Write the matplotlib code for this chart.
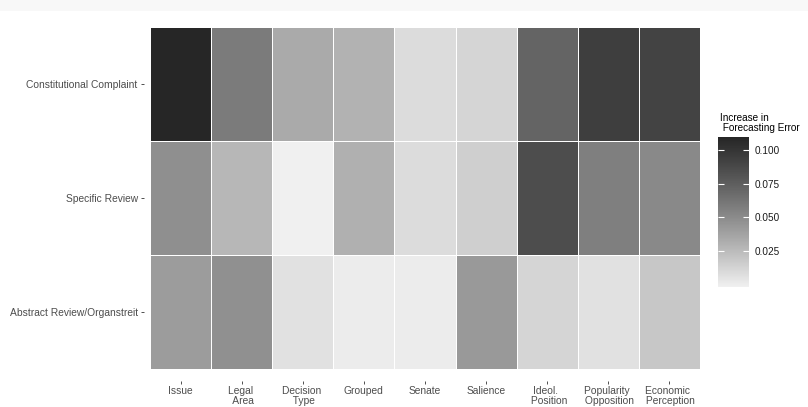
import matplotlib
matplotlib.use("Agg")
import matplotlib.pyplot as plt
import numpy as np
from matplotlib.colors import ListedColormap
from matplotlib.patches import Rectangle

plt.rcParams["font.family"] = ["Liberation Sans", "DejaVu Sans"]

court_types = ["Constitutional Complaint", "Specific Review", "Abstract Review/Organstreit"]
variables = ["Issue", "Legal \n Area", "Decision \n Type", "Grouped", "Senate",
             "Salience", "Ideol. \n Position", "Popularity \n Opposition",
             "Economic \n Perception"]

complaint = [0.1097, 0.0587, 0.0335, 0.0293, 0.0080, 0.0115, 0.0716, 0.0943, 0.0913]
specific = [0.0478, 0.0268, -0.0018, 0.0304, 0.0085, 0.0146, 0.0851, 0.0565, 0.0510]
abstract = [0.0408, 0.0473, 0.0060, 0.0001, 0.0005, 0.0425, 0.0121, 0.0060, 0.0191]

cbar_ticks = [0.025, 0.050, 0.075, 0.100]


def grey_ramp(l_low, l_high, n=256):
    # interpolate in L* like ggplot's gradient, then back to sRGB
    L = np.linspace(l_low, l_high, n)
    Y = ((L + 16) / 116) ** 3
    g = np.where(Y > 0.0031308, 1.055 * Y ** (1 / 2.4) - 0.055, 12.92 * Y)
    return ListedColormap(np.column_stack([g, g, g]))


cmap = grey_ramp(94.8, 15.2)

W, H = 808, 407
fig = plt.figure(figsize=(W / 100, H / 100), dpi=100)
fig.patches.append(Rectangle((0, 1 - 10.7 / H), 1, 10.7 / H, transform=fig.transFigure,
                             facecolor="#f8f8f8", edgecolor="none", zorder=-1))

# main heatmap, top row is the first court type
data = np.array([complaint, specific, abstract])
vmin, vmax = data.min(), data.max()
ax = fig.add_axes([143.9 / W, (H - 380.7) / H, (706.1 - 143.9) / W, (380.7 - 15.3) / H])
mesh = ax.pcolormesh(data[::-1], cmap=cmap, vmin=vmin, vmax=vmax,
                     edgecolors="white", linewidth=0.6)
ax.set_xlim(-0.1, len(variables) + 0.1)
ax.set_ylim(-0.1, len(court_types) + 0.1)
ax.set_xticks(np.arange(len(variables)) + 0.5)
ax.set_xticklabels(variables, multialignment="center", linespacing=1.0)
ax.set_yticks(np.arange(len(court_types)) + 0.5)
ax.set_yticklabels(court_types[::-1])
ax.tick_params(axis="both", length=2.3, width=0.6, color="#333333",
               labelcolor="#4d4d4d", labelsize=7.4, pad=2.2)
ax.tick_params(axis="x", pad=1.8)
for s in ax.spines.values():
    s.set_visible(False)

# colour bar legend
cax = fig.add_axes([717.7 / W, (H - 286.7) / H, 31.3 / W, 149.7 / H])
cb = fig.colorbar(mesh, cax=cax, ticks=cbar_ticks)
cb.outline.set_visible(False)
cax.set_yticklabels([f"{t:.3f}" for t in cbar_ticks])
cax.tick_params(axis="y", direction="in", length=4.3, width=0.8, color="white",
                left=True, right=True, labelsize=7.2, labelcolor="#1a1a1a", pad=4.3)

fig.text(720 / W, 1 - 133 / H, "Increase in \n Forecasting Error",
         fontsize=7.2, color="black", va="bottom", ha="left", linespacing=1.05)

fig.savefig("out.png", dpi=100)
